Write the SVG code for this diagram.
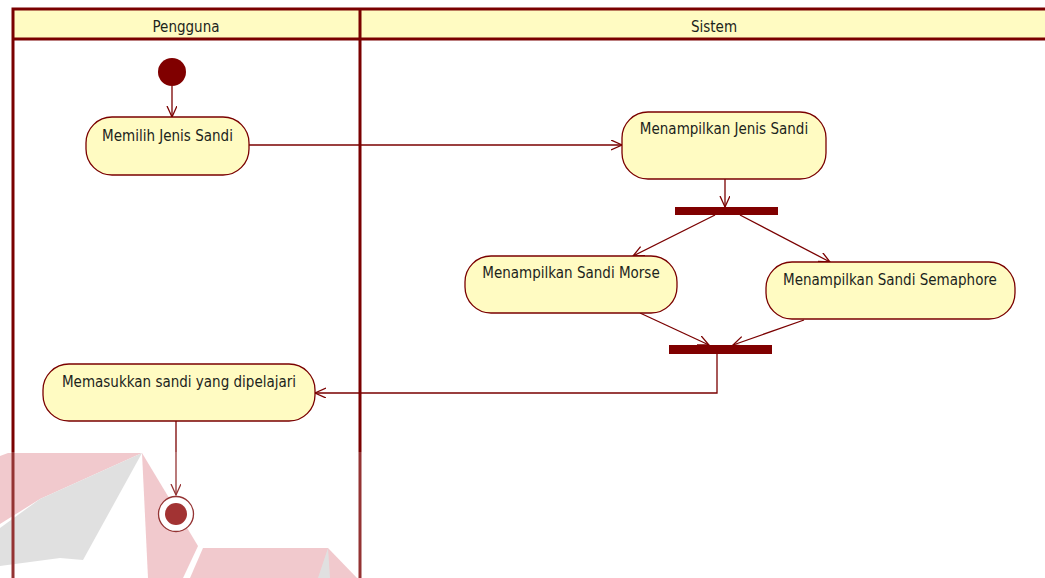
<svg xmlns="http://www.w3.org/2000/svg" width="1045" height="578" viewBox="0 0 1045 578">
<style>
.lane{stroke:#7a0000;stroke-width:3;fill:none}
.hdr{fill:#fffbc2}
.act{fill:#fffbc2;stroke:#7a0000;stroke-width:1.3}
.t{font-family:"DejaVu Sans Condensed","DejaVu Sans",sans-serif;font-size:15px;fill:#1c241c;text-anchor:middle}
.e{stroke:#7a0000;stroke-width:1.3;fill:none;marker-end:url(#arr)}
.wp{fill:#eebcc1}
.wg{fill:#d9d9d9}
</style>
<defs>
<marker id="arr" markerUnits="userSpaceOnUse" markerWidth="14" markerHeight="14" refX="11" refY="5" orient="auto">
<path d="M0,0 L11,5 L0,10" fill="none" stroke="#7a0000" stroke-width="1.3"/>
</marker>
</defs>
<rect width="1045" height="578" fill="#ffffff"/>
<g id="watermark">
<polygon class="wp" points="0,456 8,453 142,453 40,499 0,524"/>
<polygon class="wg" points="142,453 40,499 0,528 0,566 60,558 83,560"/>
<polygon class="wp" points="142,453 198,546 183,578 148,578"/>
<polygon class="wp" points="203,548 328,548 357,578 190,578"/>
<polygon class="wg" points="328,548 318,578 330,578"/>
</g>
<g id="lanes">
<rect class="hdr" x="13" y="9" width="1040" height="30"/>
<path class="lane" d="M13,578 V9 H1050 M13,39 H1050 M360,9 V578"/>
<text class="t" x="186" y="31.5">Pengguna</text>
<text class="t" x="714" y="31.5">Sistem</text>
</g>
<g id="connectors">
<path class="e" d="M172,86 V117"/>
<path class="e" d="M249,145 H622"/>
<path class="e" d="M725,179 V207"/>
<path class="e" d="M715,215 L633,256"/>
<path class="e" d="M740,215 L830,262"/>
<path class="e" d="M640,313 L709,345"/>
<path class="e" d="M804,320 L733,345"/>
<path class="e" d="M717,354 V393 H315"/>
<path class="e" d="M176,421 V495"/>
</g>
<g id="start"><circle cx="172" cy="72" r="14" fill="#800000"/></g>
<g id="memilih"><rect class="act" x="86" y="117" width="163" height="58" rx="26" ry="26"/><text class="t" x="167.5" y="140.5">Memilih Jenis Sandi</text></g>
<g id="menampilkan-jenis"><rect class="act" x="622" y="112" width="204" height="67" rx="26" ry="26"/><text class="t" x="724" y="134">Menampilkan Jenis Sandi</text></g>
<g id="fork"><rect x="675" y="207" width="103" height="8" fill="#800000"/></g>
<g id="morse"><rect class="act" x="465" y="256" width="212" height="57" rx="26" ry="26"/><text class="t" x="571" y="278">Menampilkan Sandi Morse</text></g>
<g id="semaphore"><rect class="act" x="766" y="262" width="249" height="57" rx="26" ry="26"/><text class="t" x="890" y="284.5">Menampilkan Sandi Semaphore</text></g>
<g id="join"><rect x="669" y="345" width="103" height="9" fill="#800000"/></g>
<g id="memasukkan"><rect class="act" x="43" y="364" width="272" height="57" rx="26" ry="26"/><text class="t" x="179" y="387">Memasukkan sandi yang dipelajari</text></g>
<g id="end"><circle cx="176" cy="514" r="17.5" fill="#ffffff" stroke="#7a0000" stroke-width="1.3"/><circle cx="176" cy="514" r="11" fill="#8b0000"/></g>
<rect x="0" y="452" width="1045" height="126" fill="#ffffff" opacity="0.2"/>
</svg>
